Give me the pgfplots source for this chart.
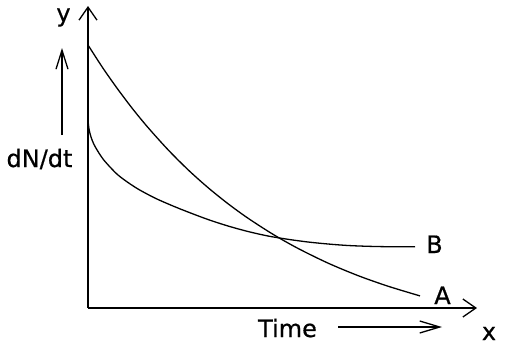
\documentclass[border=0pt]{standalone}
\usepackage{fontspec}
\setmainfont[FakeBold=0.6]{DejaVu Sans}
\usepackage{pgfplots}
\pgfplotsset{compat=1.18}
\usetikzlibrary{arrows.meta}
\tikzset{lbl/.style={font=\fontsize{24}{28}\selectfont, inner sep=0pt, anchor=base}}
\begin{document}
\begin{tikzpicture}
\begin{axis}[
  scale only axis,
  width=389pt, height=302pt,
  xmin=88, xmax=477, ymin=52, ymax=354,
  enlargelimits=false,
  axis lines=left,
  xtick=\empty, ytick=\empty,
  axis line style={line width=1.6pt, -{Straight Barb[length=13pt,width=18pt,line width=1.3pt]}},
  clip=false,
]
\path (axis cs:0,0) rectangle (axis cs:512,360);
% Curve A
\addplot[black, line width=1.3pt, smooth] coordinates {
 (88,315) (103,291.8) (118,270.5) (133,250.7) (148,232.5) (168,210.3) (188,190.3)
 (208,172.4) (228,156.3) (248,141.8) (273,125.7) (298,111.6) (328,96.9) (358,84.4)
 (388,73.8) (420,64.1)
};
% Curve B
\addplot[black, line width=1.3pt, smooth] coordinates {
 (88,240) (89,231) (91,223) (94,215.5) (98,208.5) (103,201) (110,193) (118,185) (128,177.5)
 (138,171) (148,165.5) (158,160.5) (173,154) (188,148) (208,140.5) (228,134)
 (248,128.5) (268,124) (288,120.7) (308,118) (328,116) (348,114.5) (368,113.7)
 (388,113.3) (415,113.3)
};
\node[lbl] at (axis cs:63.5,338.4) {y};
\node[lbl] at (axis cs:39.5,193) {dN/dt};
\draw[line width=1.6pt, -{Straight Barb[length=19pt,width=12pt,line width=1.3pt]}] (axis cs:62,225) -- (axis cs:62,312);
\node[lbl] at (axis cs:287.5,23) {Time};
\draw[line width=1.8pt, -{Straight Barb[length=20pt,width=12pt,line width=1.3pt]}] (axis cs:338,33) -- (axis cs:442,33);
\node[lbl] at (axis cs:489,20) {x};
\node[lbl] at (axis cs:442.5,56) {A};
\node[lbl] at (axis cs:434.5,107) {B};
\end{axis}
\end{tikzpicture}
\end{document}
